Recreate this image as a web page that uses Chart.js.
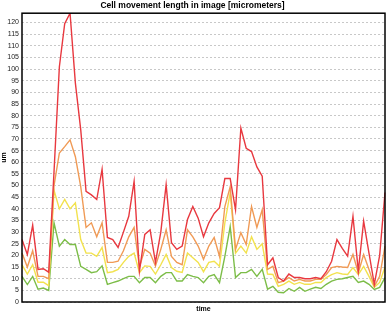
<!DOCTYPE html>
<html><head><meta charset="utf-8">
<script src="https://cdn.jsdelivr.net/npm/chart.js@4"></script>
<style>html,body{margin:0;padding:0;background:#fff}#wrap{width:386px;height:313px}</style>
</head><body><div id="wrap"><canvas id="c" width="386" height="313"></canvas></div>
<script>
const categories = Array.from({length: 69}, (_, i) => String(i + 1));
const redValues = [26.8,20.4,33,14,14.3,12.8,56,101,119.5,124,94,74,47.5,46,44,57,27.7,26.8,23.4,30,36.8,51.8,13.3,29,31,17,30,50.4,25.5,22.6,24,35.4,41,36,28,34,38,40.5,53,53,39.6,74.7,66,64.6,58,54,16,19,10.5,9,12,10.5,10.5,10,10,10.5,10,13,17.5,26.8,23,19.7,36.8,13.3,34.7,21,7.6,20,47];
const orangeValues = [21,15,22,11,11,10,50,64,66.7,69.6,62.4,49.5,32,34,28,34,17,17,17.5,22,28,32,15,22.6,21,15.5,22.6,31,19.6,17,16,31,28,24,18.3,24,27.7,19.6,41,49.5,22.6,29.8,24.7,41,32,39.6,14,15.3,8.3,9,10.5,9,9.7,9,9,9.7,9.7,11.8,14.8,15.3,15,14.8,20.4,12.6,20.4,14,6.7,11,24];
const yellowValues = [16,12,16,8.5,8.5,7,48,40,44,40,42.6,26.8,21,21,19.6,23.4,12.6,13,14,17,19.6,21,12.6,15.5,15.3,12,16,20.4,14.8,13.2,12.7,21,19,17,13,17,17.5,15.3,34,47,21,24,21,28,22.6,25,12,11.8,6.7,7.6,9,7.6,8.4,7.6,7.6,8.4,8.4,10.5,11.8,12.6,12,11.8,14.8,11.8,15.3,11,6.3,8.4,15];
const greenValues = [11,7.5,11,5.5,6,5,34,24,26.8,24.7,24.7,15.3,14,12.6,13,15.5,7.6,8.3,9,10,11,11,8.3,10.5,10.5,8.3,11,12.6,12.6,9,9,11.8,11,10.5,8.3,11,11.8,8.3,19.6,32.4,10.5,12.6,12.6,14,11,14,5.5,6.7,4.2,4,5.8,4.6,6.3,4.6,5.5,6.3,5.8,7.6,9,9.7,10,10.5,11,8.4,9,7.6,5.4,6.3,10.5];
const yMin = 0, yMax = 124, yStep = 5;

const FONT = "'Liberation Sans', Arial, sans-serif";
const boxPlugin = {
  id: 'box',
  afterDatasetsDraw(chart) {
    const a = chart.chartArea, ctx = chart.ctx;
    ctx.save();
    ctx.strokeStyle = '#000';
    ctx.lineWidth = 1.5;
    ctx.strokeRect(a.left, a.top, a.right - a.left, a.bottom - a.top);
    ctx.restore();
  }
};
function ds(label, data, color) {
  return {label, data, borderColor: color, backgroundColor: color, borderWidth: 1.4, pointRadius: 0, tension: 0, fill: false};
}
new Chart(document.getElementById('c'), {
  type: 'line',
  data: {
    labels: categories,
    datasets: [
      ds('red', redValues, '#e8383f'),
      ds('orange', orangeValues, '#f09a55'),
      ds('yellow', yellowValues, '#f2e24e'),
      ds('green', greenValues, '#7cbd48')
    ]
  },
  options: {
    responsive: false,
    animation: false,
    events: [],
    layout: {padding: {top: 0, right: 1, bottom: 0, left: 0}},
    plugins: {
      legend: {display: false},
      tooltip: {enabled: false},
      title: {display: true, text: 'Cell movement length in image [micrometers]', color: '#000',
        font: {family: FONT, size: 8.5, weight: 'bold'}, padding: {top: 1, bottom: 2}}
    },
    scales: {
      x: {
        type: 'category', offset: false,
        ticks: {display: false},
        grid: {display: false, drawTicks: false},
        border: {display: false},
        title: {display: true, text: 'time', color: '#000', font: {family: FONT, size: 7, weight: 'bold'}, padding: {top: 2, bottom: 0}},
        afterFit(s) { s.height = 11; }
      },
      y: {
        min: yMin, max: yMax,
        ticks: {stepSize: yStep, color: '#222', font: {family: FONT, size: 7}, padding: 3, autoSkip: false},
        afterBuildTicks(s) { s.ticks = s.ticks.filter(t => t.value % yStep === 0); },
        grid: {color: '#c8c8c8', lineWidth: 1, drawTicks: false},
        border: {display: false, dash: [2, 2]},
        title: {display: true, text: 'um', color: '#000', font: {family: FONT, size: 7, weight: 'bold'}, padding: 0},
        afterFit(s) { s.width = 22; }
      }
    }
  },
  plugins: [boxPlugin]
});
</script></body></html>
